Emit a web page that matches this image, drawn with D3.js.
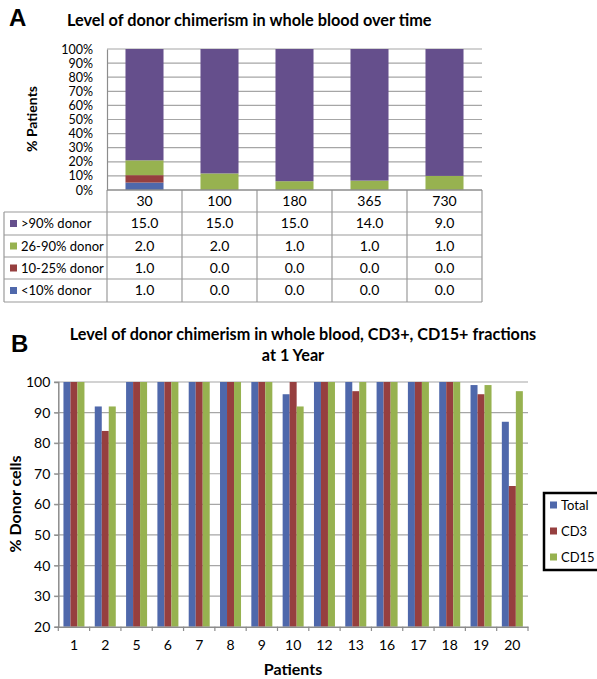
<!DOCTYPE html>
<html><head><meta charset="utf-8">
<script src="https://cdn.jsdelivr.net/npm/d3@7"></script>
<style>
body{margin:0;background:#fff;}
svg text{font-family:Lato,"Open Sans",sans-serif;fill:#000;}
</style></head>
<body>
<svg id="c" width="597" height="679"></svg>
<script>
// ---- Panel A data ----
const timepoints = ["30","100","180","365","730"];
const seriesA = [">90% donor","26-90% donor","10-25% donor","<10% donor"];
const donorGt90 = [15.0,15.0,15.0,14.0,9.0];
const donor26to90 = [2.0,2.0,1.0,1.0,1.0];
const donor10to25 = [1.0,0.0,0.0,0.0,0.0];
const donorLt10 = [1.0,0.0,0.0,0.0,0.0];
const pctTicks = [0,0.1,0.2,0.3,0.4,0.5,0.6,0.7,0.8,0.9,1.0];

// ---- Panel B data ----
const patients = ["1","2","5","6","7","8","9","10","12","13","16","17","18","19","20"];
const seriesB = ["Total","CD3","CD15"];
const totalVals = [100,92,100,100,100,100,100,96,100,100,100,100,100,99,87];
const cd3Vals   = [100,84,100,100,100,100,100,100,100,97,100,100,100,96,66];
const cd15Vals  = [100,92,100,100,100,100,100,92,100,100,100,100,100,99,97];
const yTicksB = [20,30,40,50,60,70,80,90,100];

const colA = {">90% donor":"#654f8c","26-90% donor":"#97b250","10-25% donor":"#963f3f","<10% donor":"#4f68ab"};
const colB = {"Total":"#4f68ab","CD3":"#963f3f","CD15":"#97b250"};
const grid = "#a6a6a6", axisC = "#8c8c8c", tableC = "#9a9a9a";

const svg = d3.select("#c");

// ================= Panel A =================
svg.append("text").attr("x",9).attr("y",26).attr("font-size",24).attr("font-weight","bold")
  .style("font-family","Liberation Sans, Arial, sans-serif").text("A");
svg.append("text").attr("x",67).attr("y",26).attr("font-size",16.3).attr("font-weight","bold").text("Level of donor chimerism in whole blood over time");

const rowsA = timepoints.map((t,i)=>({t, ">90% donor":donorGt90[i], "26-90% donor":donor26to90[i], "10-25% donor":donor10to25[i], "<10% donor":donorLt10[i]}));
const stackA = d3.stack().keys(["<10% donor","10-25% donor","26-90% donor",">90% donor"]).offset(d3.stackOffsetExpand)(rowsA);

const xA = d3.scaleBand().domain(timepoints).range([107,482]).paddingInner(0.493).paddingOuter(0.2465);
const yA = d3.scaleLinear().domain([0,1]).range([190,49]);

const gA = svg.append("g");
gA.selectAll("line.grid").data(pctTicks.filter(d=>d>0)).join("line")
  .attr("x1",107).attr("x2",482).attr("y1",d=>yA(d)).attr("y2",d=>yA(d))
  .attr("stroke",grid).attr("stroke-width",1.2);
gA.selectAll("g.s").data(stackA).join("g").attr("fill",d=>colA[d.key])
  .selectAll("rect").data(d=>d).join("rect")
  .attr("x",d=>xA(d.data.t)).attr("width",xA.bandwidth())
  .attr("y",d=>yA(d[1])).attr("height",d=>yA(d[0])-yA(d[1]));
const axA = d3.axisLeft(yA).tickValues(pctTicks).tickFormat(d3.format(".0%")).tickSize(0).tickPadding(14);
const axAg = svg.append("g").attr("transform","translate(107,0)").call(axA);
axAg.select(".domain").attr("stroke",axisC).attr("stroke-width",1.2);
axAg.selectAll("text").attr("font-size",12.5).style("font-family","Lato, sans-serif");
svg.append("text").attr("transform","translate(37,119) rotate(-90)").attr("text-anchor","middle")
  .attr("font-size",14).attr("font-weight","bold").text("% Patients");

// Data table
const rowY = [190,212,235,257,279,302];
const tbl = svg.append("g");
const colEdges = timepoints.map(t=>xA(t)-xA.step()*xA.paddingInner()/2);
colEdges.push(482);
tbl.selectAll("line.v").data(colEdges).join("line")
  .attr("x1",d=>d).attr("x2",d=>d).attr("y1",190).attr("y2",302).attr("stroke",tableC).attr("stroke-width",1.2);
tbl.append("line").attr("x1",4).attr("x2",4).attr("y1",212).attr("y2",302).attr("stroke",tableC).attr("stroke-width",1.2);
tbl.selectAll("line.h").data(rowY.slice(1)).join("line")
  .attr("x1",4).attr("x2",482).attr("y1",d=>d).attr("y2",d=>d).attr("stroke",tableC).attr("stroke-width",1.2);
tbl.append("line").attr("x1",107).attr("x2",482).attr("y1",190).attr("y2",190).attr("stroke",axisC).attr("stroke-width",1.5);
tbl.selectAll("text.hd").data(timepoints).join("text")
  .attr("x",d=>xA(d)+xA.bandwidth()/2).attr("y",(rowY[0]+rowY[1])/2).attr("dy","0.35em")
  .attr("text-anchor","middle").attr("font-size",14).text(d=>d);
const tableVals = {">90% donor":donorGt90,"26-90% donor":donor26to90,"10-25% donor":donor10to25,"<10% donor":donorLt10};
seriesA.forEach((s,ri)=>{
  const yc = (rowY[ri+1]+rowY[ri+2])/2;
  tbl.append("rect").attr("x",10).attr("y",yc-3.5).attr("width",7).attr("height",7).attr("fill",colA[s]);
  tbl.append("text").attr("x",21).attr("y",yc).attr("dy","0.35em").attr("font-size",13).text(s);
  tableVals[s].forEach((v,ci)=>{
    tbl.append("text").attr("x",xA(timepoints[ci])+xA.bandwidth()/2).attr("y",yc).attr("dy","0.35em")
      .attr("text-anchor","middle").attr("font-size",14).text(d3.format(".1f")(v));
  });
});

// ================= Panel B =================
svg.append("text").attr("x",11).attr("y",352).attr("font-size",24).attr("font-weight","bold")
  .style("font-family","Liberation Sans, Arial, sans-serif").text("B");
svg.append("text").attr("x",303).attr("y",340).attr("text-anchor","middle").attr("font-size",16.2).attr("font-weight","bold")
  .text("Level of donor chimerism in whole blood, CD3+, CD15+ fractions");
svg.append("text").attr("x",293).attr("y",361).attr("text-anchor","middle").attr("font-size",16.2).attr("font-weight","bold")
  .text("at 1 Year");

const xB = d3.scaleBand().domain(patients).range([58.3,528]).padding(0);
const xBi = d3.scaleBand().domain(seriesB).range([0,xB.step()]).paddingInner(0).paddingOuter(0.736);
const yB = d3.scaleLinear().domain([20,100]).range([626.7,382]);

const gB = svg.append("g");
gB.selectAll("line.grid").data(yTicksB.filter(d=>d>20)).join("line")
  .attr("x1",54).attr("x2",528).attr("y1",d=>yB(d)).attr("y2",d=>yB(d))
  .attr("stroke",grid).attr("stroke-width",1.2);
const valsB = {"Total":totalVals,"CD3":cd3Vals,"CD15":cd15Vals};
const barsB = [];
patients.forEach((p,i)=>seriesB.forEach(s=>barsB.push({p,s,v:valsB[s][i]})));
gB.selectAll("rect").data(barsB).join("rect")
  .attr("x",d=>xB(d.p)+xBi(d.s)).attr("width",xBi.bandwidth())
  .attr("y",d=>yB(d.v)).attr("height",d=>yB(20)-yB(d.v)).attr("fill",d=>colB[d.s]);

const ayB = svg.append("g").attr("transform","translate(58.3,0)")
  .call(d3.axisLeft(yB).tickValues(yTicksB).tickSize(4).tickPadding(4));
ayB.select(".domain").attr("stroke",axisC).attr("stroke-width",1.5);
ayB.selectAll("line").attr("stroke",axisC);
ayB.selectAll("text").attr("font-size",14).style("font-family","Lato, sans-serif");

const axB = svg.append("g").attr("transform","translate(0,626.7)")
  .call(d3.axisBottom(xB).tickSize(0).tickPadding(13));
axB.select(".domain").attr("stroke",axisC).attr("stroke-width",1.5);
axB.selectAll("text").attr("font-size",14).style("font-family","Lato, sans-serif");
svg.append("g").selectAll("line").data(patients.map(p=>xB(p)).concat([528])).join("line")
  .attr("x1",d=>d).attr("x2",d=>d).attr("y1",626.7).attr("y2",631).attr("stroke",axisC).attr("stroke-width",1.2);

svg.append("text").attr("x",293).attr("y",675).attr("text-anchor","middle").attr("font-size",16).attr("font-weight","bold").text("Patients");
svg.append("text").attr("transform","translate(21,504) rotate(-90)").attr("text-anchor","middle")
  .attr("font-size",16).attr("font-weight","bold").text("% Donor cells");

// legend
const lg = svg.append("g");
lg.append("rect").attr("x",544).attr("y",493).attr("width",60).attr("height",77)
  .attr("fill","#fff").attr("stroke","#000").attr("stroke-width",2.5);
seriesB.forEach((s,i)=>{
  const yc = 505 + i*26;
  lg.append("rect").attr("x",550).attr("y",yc-3.5).attr("width",7).attr("height",7).attr("fill",colB[s]);
  lg.append("text").attr("x",561).attr("y",yc).attr("dy","0.35em").attr("font-size",13).text(s);
});
</script>
</body></html>
